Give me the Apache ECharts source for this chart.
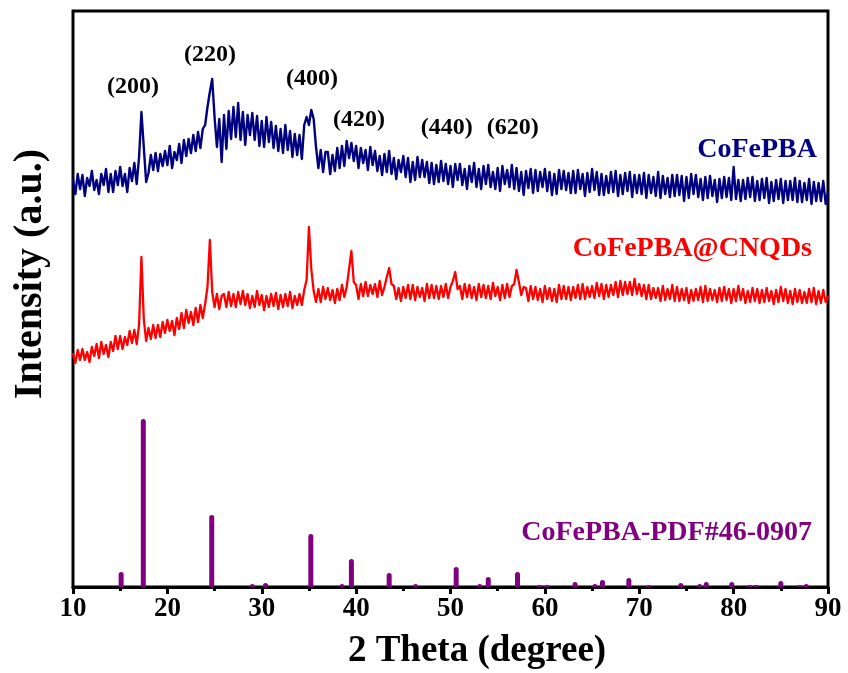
<!DOCTYPE html>
<html>
<head>
<meta charset="utf-8">
<script src="https://cdn.jsdelivr.net/npm/echarts@6/dist/echarts.min.js"></script>
<style>
  html, body { margin: 0; padding: 0; background: #fff; }
  #chart { width: 848px; height: 673px; }
</style>
</head>
<body>
<div id="chart"></div>
<script>
// XRD patterns sampled every 0.25 degree from 10 to 90 (2 Theta)
const thetaStart = 10;
const thetaStep = 0.25;

// CoFePBA (offset intensity, a.u.) - one row per degree
const cofepba = [
  407,393,413,398,
  412,391,409,401,
  416,397,407,393,
  413,402,418,395,
  413,395,416,402,
  420,401,413,395,
  419,406,424,403,
  430,475,440,405,
  414,432,417,434,
  416,433,421,436,
  422,441,419,435,
  427,443,424,447,
  431,448,434,452,
  436,455,439,458,
  462,480,495,508,
  470,440,468,425,
  472,438,476,448,
  480,450,484,447,
  475,442,472,452,
  474,447,471,441,
  466,440,470,445,
  465,439,461,436,
  458,434,462,437,
  456,430,453,432,
  452,428,462,470,
  462,477,468,440,
  419,437,415,435,
  435,413,432,416,
  439,419,441,421,
  446,429,444,426,
  441,419,439,424,
  437,417,440,422,
  436,416,431,412,
  433,415,436,413,
  429,408,427,415,
  431,410,429,405,
  425,407,430,410,
  427,410,425,404,
  424,403,422,405,
  426,406,423,403,
  421,400,423,407,
  423,402,418,398,
  421,405,424,400,
  418,398,421,403,
  422,400,415,398,
  419,396,421,403,
  417,400,422,398,
  419,396,415,392,
  416,399,418,394,
  417,396,415,400,
  418,396,415,392,
  413,393,417,398,
  416,397,414,394,
  416,394,417,398,
  413,391,414,395,
  418,397,415,392,
  413,392,411,394,
  415,395,416,391,
  412,393,414,396,
  415,390,412,394,
  412,393,414,389,
  412,394,410,391,
  415,389,411,393,
  409,390,412,391,
  412,392,411,386,
  410,389,413,393,
  412,390,408,387,
  410,389,411,391,
  407,385,408,389,
  410,390,409,387,
  420,388,407,386,
  407,388,409,390,
  410,386,406,387,
  408,389,409,384,
  405,386,407,388,
  408,384,406,387,
  406,387,409,385,
  406,385,404,387,
  408,383,405,386,
  404,386,406,383,
  395
];

// CoFePBA@CNQDs (offset intensity, a.u.)
const cofepbaCnqds = [
  234,224,237,227,
  238,227,235,225,
  240,231,243,229,
  245,233,242,230,
  245,236,251,238,
  251,238,250,242,
  256,244,257,243,
  262,330,268,246,
  259,248,262,249,
  262,250,265,254,
  267,256,266,252,
  269,258,274,259,
  277,264,275,262,
  279,265,282,269,
  283,300,347,295,
  280,293,278,291,
  293,280,295,281,
  293,280,295,283,
  296,282,293,279,
  291,280,296,282,
  292,277,291,280,
  293,281,294,278,
  292,280,293,281,
  295,279,291,282,
  293,282,297,307,
  360,318,296,285,
  298,285,300,288,
  299,287,297,284,
  298,287,302,290,
  300,318,336,305,
  302,288,303,291,
  305,291,302,293,
  303,290,306,292,
  300,310,319,303,
  301,288,299,286,
  300,289,302,288,
  302,287,300,290,
  299,286,303,289,
  302,289,301,288,
  301,290,303,289,
  300,306,315,298,
  301,288,303,290,
  302,289,300,287,
  303,290,302,289,
  301,288,304,291,
  300,287,302,289,
  303,290,301,303,
  317,305,292,300,
  299,286,301,288,
  300,287,298,285,
  301,288,299,286,
  298,285,302,288,
  301,288,300,287,
  300,289,302,288,
  303,288,300,290,
  301,289,304,291,
  303,288,302,290,
  302,292,305,290,
  306,292,305,293,
  305,292,308,293,
  303,291,302,288,
  302,288,299,289,
  299,286,301,287,
  298,288,302,286,
  300,286,298,287,
  299,284,297,286,
  298,287,300,285,
  301,286,298,287,
  297,285,299,286,
  300,287,298,284,
  298,286,301,287,
  298,284,296,285,
  299,286,298,284,
  297,285,299,286,
  296,283,297,285,
  300,286,298,284,
  296,283,298,285,
  297,284,295,284,
  298,285,299,283,
  296,284,297,285,
  291
];

// Reference pattern CoFePBA-PDF#46-0907: peak positions and relative heights
const pdfTheta = [15.1, 17.45, 24.7, 29.0, 30.4, 35.2, 38.5, 39.5, 43.5, 46.3, 50.6, 53.1, 54.0, 57.1,
                  59.4, 60.2, 63.2, 65.3, 66.1, 68.9, 71.0, 74.4, 76.4, 77.1, 79.8, 81.7, 82.4, 85.0, 87.0, 87.7];
const pdfHeight = [15, 168, 72, 3, 4, 53, 3, 28, 14, 3, 20, 3, 10, 15,
                   2, 2, 5, 3, 7, 9, 2, 4, 3, 5, 5, 2, 2, 6, 2, 3];

// Miller indices marked above the CoFePBA pattern (label anchor in data units)
const hklLabels = ['(200)', '(220)', '(400)', '(420)', '(440)', '(620)'];
const hklTheta = [16.36, 24.52, 35.32, 40.3, 49.6, 56.6];
const hklLevel = [500, 532, 508, 467, 459, 459];

const xTicks = [10, 20, 30, 40, 50, 60, 70, 80, 90];

const serif = '"Liberation Serif", "Times New Roman", serif';

function pairs(values) {
  return values.map((v, i) => [thetaStart + i * thetaStep, v]);
}

const chart = echarts.init(document.getElementById('chart'), null, { renderer: 'canvas' });

const option = {
  animation: false,
  backgroundColor: '#fff',
  grid: {
    left: 73, right: 20, top: 11, bottom: 86,
    outerBoundsMode: 'none',
    containLabel: false,
    show: true, borderColor: '#000', borderWidth: 3, backgroundColor: 'transparent'
  },
  xAxis: {
    type: 'value',
    min: xTicks[0], max: xTicks[xTicks.length - 1], interval: 10,
    axisLine: { show: true, lineStyle: { color: '#000', width: 3 } },
    axisTick: { show: true, length: 7, lineStyle: { color: '#000', width: 3 } },
    minorTick: { show: true, splitNumber: 2, length: 4, lineStyle: { color: '#000', width: 3 } },
    axisLabel: { fontFamily: serif, fontWeight: 'bold', fontSize: 27, color: '#000', margin: 9 },
    splitLine: { show: false }
  },
  yAxis: {
    type: 'value',
    min: 0, max: 576,
    axisLine: { show: false },
    axisTick: { show: false },
    axisLabel: { show: false },
    splitLine: { show: false }
  },
  series: [
    {
      name: 'CoFePBA',
      type: 'line',
      data: pairs(cofepba),
      showSymbol: false,
      lineStyle: { color: '#000080', width: 2.4, join: 'round' },
      z: 3
    },
    {
      name: 'CoFePBA@CNQDs',
      type: 'line',
      data: pairs(cofepbaCnqds),
      showSymbol: false,
      lineStyle: { color: '#ff0000', width: 2.3, join: 'round' },
      z: 3
    },
    {
      name: 'CoFePBA-PDF#46-0907',
      type: 'bar',
      data: pdfTheta.map((t, i) => [t, pdfHeight[i]]),
      barWidth: 5,
      itemStyle: { color: '#800080', borderRadius: [2.5, 2.5, 0, 0] },
      z: 2
    }
  ],
  graphic: [
    { type: 'text', x: 31, y: 274, rotation: Math.PI / 2,
      style: { text: 'Intensity (a.u.)', font: 'bold 40px ' + serif, fill: '#000',
               textAlign: 'center', textVerticalAlign: 'middle' } },
    { type: 'text', x: 477, y: 651,
      style: { text: '2 Theta (degree)', font: 'bold 37px ' + serif, fill: '#000',
               textAlign: 'center', textVerticalAlign: 'middle' } },
    { type: 'text', right: 31, top: 136,
      style: { text: 'CoFePBA', font: 'bold 28px ' + serif, fill: '#000080' } },
    { type: 'text', right: 36, top: 235,
      style: { text: 'CoFePBA@CNQDs', font: 'bold 28px ' + serif, fill: '#ff0000' } },
    { type: 'text', right: 36, top: 519,
      style: { text: 'CoFePBA-PDF#46-0907', font: 'bold 28px ' + serif, fill: '#800080' } }
  ]
};

chart.setOption(option);

// place the Miller-index labels at their data positions
const hklGraphics = hklLabels.map((txt, i) => {
  const p = chart.convertToPixel({ gridIndex: 0 }, [hklTheta[i], hklLevel[i]]);
  return {
    type: 'text', x: p[0], y: p[1],
    style: { text: txt, font: 'bold 24px ' + serif, fill: '#000',
             textAlign: 'center', textVerticalAlign: 'middle' }
  };
});
chart.setOption({ graphic: option.graphic.concat(hklGraphics) });
</script>
</body>
</html>
